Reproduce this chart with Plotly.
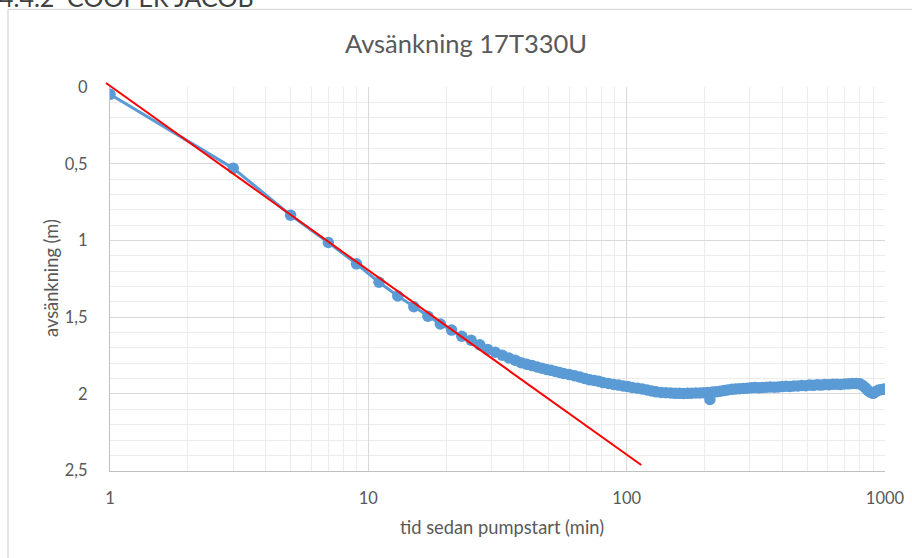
import plotly.graph_objects as go

# ---------------- data ----------------
time_min = [1, 3, 5, 7, 9, 11, 13, 15, 17, 19, 21, 23, 25, 27, 29, 31, 33, 35, 37, 39,
            41, 43, 45, 47, 49, 51, 53, 55, 57, 60, 63, 66, 69, 72, 75, 78, 81, 85, 89, 93,
            97, 101, 105, 110, 115, 120, 125, 130, 136, 142, 148, 154, 160, 166, 172, 178,
            185, 192, 199, 206, 210, 215, 222, 230, 238, 246, 255, 264, 273, 283, 293, 303,
            314, 325, 336, 348, 360, 373, 386, 400, 414, 429, 444, 460, 476, 493, 510, 528,
            547, 566, 586, 607, 628, 650, 673, 697, 722, 748, 775, 800, 820, 840, 860, 880,
            900, 920, 940, 960, 980, 1000]
drawdown_m = [0.048, 0.530, 0.835, 1.013, 1.152, 1.272, 1.362, 1.432, 1.494, 1.544,
              1.584, 1.624, 1.650, 1.680, 1.710, 1.728, 1.748, 1.766, 1.780, 1.796,
              1.806, 1.815, 1.824, 1.832, 1.840, 1.846, 1.853, 1.860, 1.866, 1.874,
              1.882, 1.890, 1.900, 1.908, 1.912, 1.918, 1.926, 1.932, 1.938, 1.942,
              1.948, 1.952, 1.958, 1.962, 1.968, 1.974, 1.980, 1.986, 1.990, 1.992,
              1.994, 1.996, 1.996, 1.997, 1.996, 1.995, 1.994, 1.994, 1.992, 1.990,
              2.036, 1.988, 1.986, 1.982, 1.978, 1.974, 1.970, 1.968, 1.966, 1.964,
              1.962, 1.960, 1.958, 1.960, 1.958, 1.956, 1.955, 1.956, 1.954, 1.952,
              1.950, 1.951, 1.948, 1.948, 1.945, 1.946, 1.942, 1.944, 1.940, 1.942,
              1.938, 1.940, 1.937, 1.936, 1.938, 1.935, 1.934, 1.932, 1.932, 1.934,
              1.945, 1.960, 1.978, 1.990, 1.996, 1.985, 1.976, 1.972, 1.970, 1.968]
trend_time = [0.965, 113.9]
trend_drawdown = [-0.026, 2.463]

x_tick_vals = [1, 10, 100, 1000]
x_tick_text = ["1", "10", "100", "1000"]
y_tick_vals = [0, 0.5, 1, 1.5, 2, 2.5]
y_tick_text = ["0", "0,5", "1", "1,5", "2", "2,5"]

chart_title = "Avsänkning 17T330U"
x_title = "tid sedan pumpstart (min)"
y_title = "avsänkning (m)"
heading = "4.4.2  COOPER JACOB"

# ---------------- layout geometry (pixels) ----------------
W, H = 912, 558
PL, PR, PT, PB = 100, 896, 77, 480          # paper area
AX_L, AX_R, AX_T, AX_B = 110, 885, 87, 470.7  # main plot area
pw, ph = PR - PL, PB - PT


def px_x(p):
    return (p - PL) / pw


def px_y(p):
    return (PB - p) / ph


dec_px = (AX_R - AX_L) / 3.0
unit_px = (AX_B - AX_T) / 2.5
x2_range = [(PL - AX_L) / dec_px, (PR - AX_L) / dec_px]
y2_range = [(PB - AX_T) / unit_px, (PT - AX_T) / unit_px]

TXT = "#595959"
FONT = "Lato"

fig = go.Figure()
fig.add_trace(go.Scatter(
    x=time_min, y=drawdown_m, mode="lines+markers",
    line=dict(color="#5b9bd5", width=3),
    marker=dict(size=11.5, color="#5b9bd5"),
    xaxis="x", yaxis="y", showlegend=False, hoverinfo="skip"))
fig.add_trace(go.Scatter(
    x=trend_time, y=trend_drawdown, mode="lines",
    line=dict(color="#ff0000", width=2),
    xaxis="x2", yaxis="y2", showlegend=False, hoverinfo="skip"))

fig.update_layout(
    width=W, height=H,
    margin=dict(l=PL, r=W - PR, t=PT, b=H - PB, pad=0, autoexpand=False),
    paper_bgcolor="white", plot_bgcolor="rgba(0,0,0,0)",
    font=dict(family=FONT, color=TXT),
    xaxis=dict(
        type="log", range=[0, 3], domain=[px_x(AX_L), px_x(AX_R)], anchor="y",
        automargin=False,
        tickvals=x_tick_vals, ticktext=x_tick_text,
        tickfont=dict(size=16.5, color=TXT), ticks="", ticklabelstandoff=12,
        showgrid=True, gridcolor="#d9d9d9", gridwidth=1,
        minor=dict(dtick="D1", showgrid=True, gridcolor="#ececec", gridwidth=1, ticks=""),
        showline=True, linecolor="#bfbfbf", linewidth=1.3, zeroline=False),
    yaxis=dict(
        range=[2.5, 0], domain=[px_y(AX_B), px_y(AX_T)], anchor="x",
        automargin=False,
        tickvals=y_tick_vals, ticktext=y_tick_text,
        tickfont=dict(size=16.5, color=TXT), ticks="", ticklabelstandoff=18,
        showgrid=True, gridcolor="#d9d9d9", gridwidth=1,
        minor=dict(dtick=0.1, showgrid=True, gridcolor="#ececec", gridwidth=1, ticks=""),
        showline=True, linecolor="#bfbfbf", linewidth=1.3, zeroline=False),
    xaxis2=dict(type="log", range=x2_range, domain=[0, 1], anchor="y2", visible=False,
                automargin=False),
    yaxis2=dict(range=y2_range, domain=[0, 1], anchor="x2", visible=False,
                automargin=False),
    title=dict(text=chart_title, x=466 / W, xanchor="center", xref="container",
               y=1 - 44 / H, yanchor="middle", yref="container",
               font=dict(size=25.5, color=TXT, family=FONT)),
    shapes=[dict(type="rect", xref="paper", yref="paper",
                 x0=px_x(8), x1=px_x(930), y0=px_y(575), y1=px_y(9.3),
                 line=dict(color="#d9d9d9", width=1.3), fillcolor="rgba(0,0,0,0)",
                 layer="below")],
    annotations=[
        dict(text=x_title, xref="paper", yref="paper", x=px_x(501.5), y=px_y(527),
             xanchor="center", yanchor="middle", showarrow=False,
             font=dict(size=18.3, color=TXT, family=FONT)),
        dict(text=y_title, xref="paper", yref="paper", x=px_x(51), y=px_y(278),
             xanchor="center", yanchor="middle", textangle=-90, showarrow=False,
             font=dict(size=18.3, color=TXT, family=FONT)),
        dict(text=heading, xref="paper", yref="paper", x=px_x(-3), y=px_y(-3),
             xanchor="left", yanchor="middle", showarrow=False,
             font=dict(size=25, color="#404040", family=FONT)),
    ],
)

fig.write_html("out.html")
